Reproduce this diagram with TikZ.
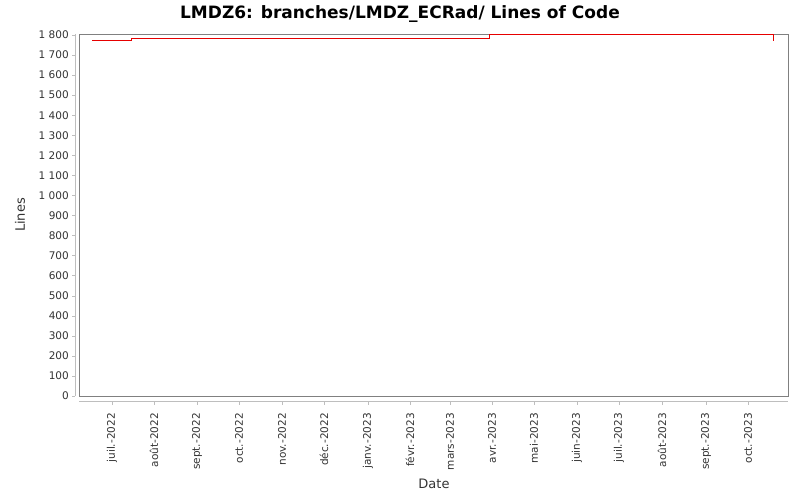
\documentclass[tikz,border=0pt]{standalone}
\usepackage{fontspec}
\setmainfont{DejaVu Sans}
\definecolor{axisgrey}{RGB}{128,128,128}
\definecolor{tickgrey}{RGB}{190,190,190}
\definecolor{locred}{RGB}{230,0,0}
\begin{document}
\begin{tikzpicture}[x=1pt,y=-1pt,
  ticklabel/.style={font=\fontsize{10.5}{12}\selectfont,text=black!80},
  datelabel/.style={font=\fontsize{10.5}{12}\selectfont,text=black!80,rotate=90,anchor=east}]

  \newcommand\Yv[1]{396-#1*0.20056}

  \useasboundingbox[fill=white] (0,0) rectangle (800,500);

  %% title
  \node[font=\bfseries\fontsize{17}{19}\selectfont] (title) at (400,14) {LMDZ6: branches/LMDZ\_ECRad/ Lines of Code};

  %% plot frame
  \draw[axisgrey] (79,34) rectangle (788,396);
  \draw[tickgrey] (75,34) -- (75,396); %% y axis
  \draw[tickgrey] (79,401) -- (788,401); %% x axis

  %% y ticks
  \foreach \v/\t in {0/0,100/100,200/200,300/300,400/400,500/500,600/600,700/700,800/800,900/900,
    1000/1 000,1100/1 100,1200/1 200,1300/1 300,1400/1 400,1500/1 500,1600/1 600,1700/1 700,1800/1 800}{
    \draw[tickgrey] (72,\Yv{\v}) -- (75,\Yv{\v});
    \node[ticklabel,anchor=east,inner sep=1pt] at (70,\Yv{\v}) {\t};
  }

  %% x ticks
  \foreach \x/\t in {112/juil.-2022,154/août-2022,197/sept.-2022,239/oct.-2022,282/nov.-2022,
    324/déc.-2022,368/janv.-2023,410/févr.-2023,450/mars-2023,492/avr.-2023,534/mai-2023,
    577/juin-2023,619/juil.-2023,662/août-2023,706/sept.-2023,748/oct.-2023}{
    \draw[tickgrey] (\x,401) -- (\x,405);
    \node[datelabel,inner sep=1pt] at (\x,412) {\t};
  }

  %% axis titles
  \node[font=\fontsize{13}{14}\selectfont,text=black!80] (xtitle) at (434,484) {Date};
  \node[font=\fontsize{13}{14}\selectfont,text=black!80,rotate=90] (ytitle) at (20,215) {Lines};

  %% data
  \draw[locred] (92,40) -- (131,40) -- (131,38.5) -- (489,38.5) -- (489,34.5)
    -- (773,34.5) -- (773,41);

\end{tikzpicture}
\end{document}
